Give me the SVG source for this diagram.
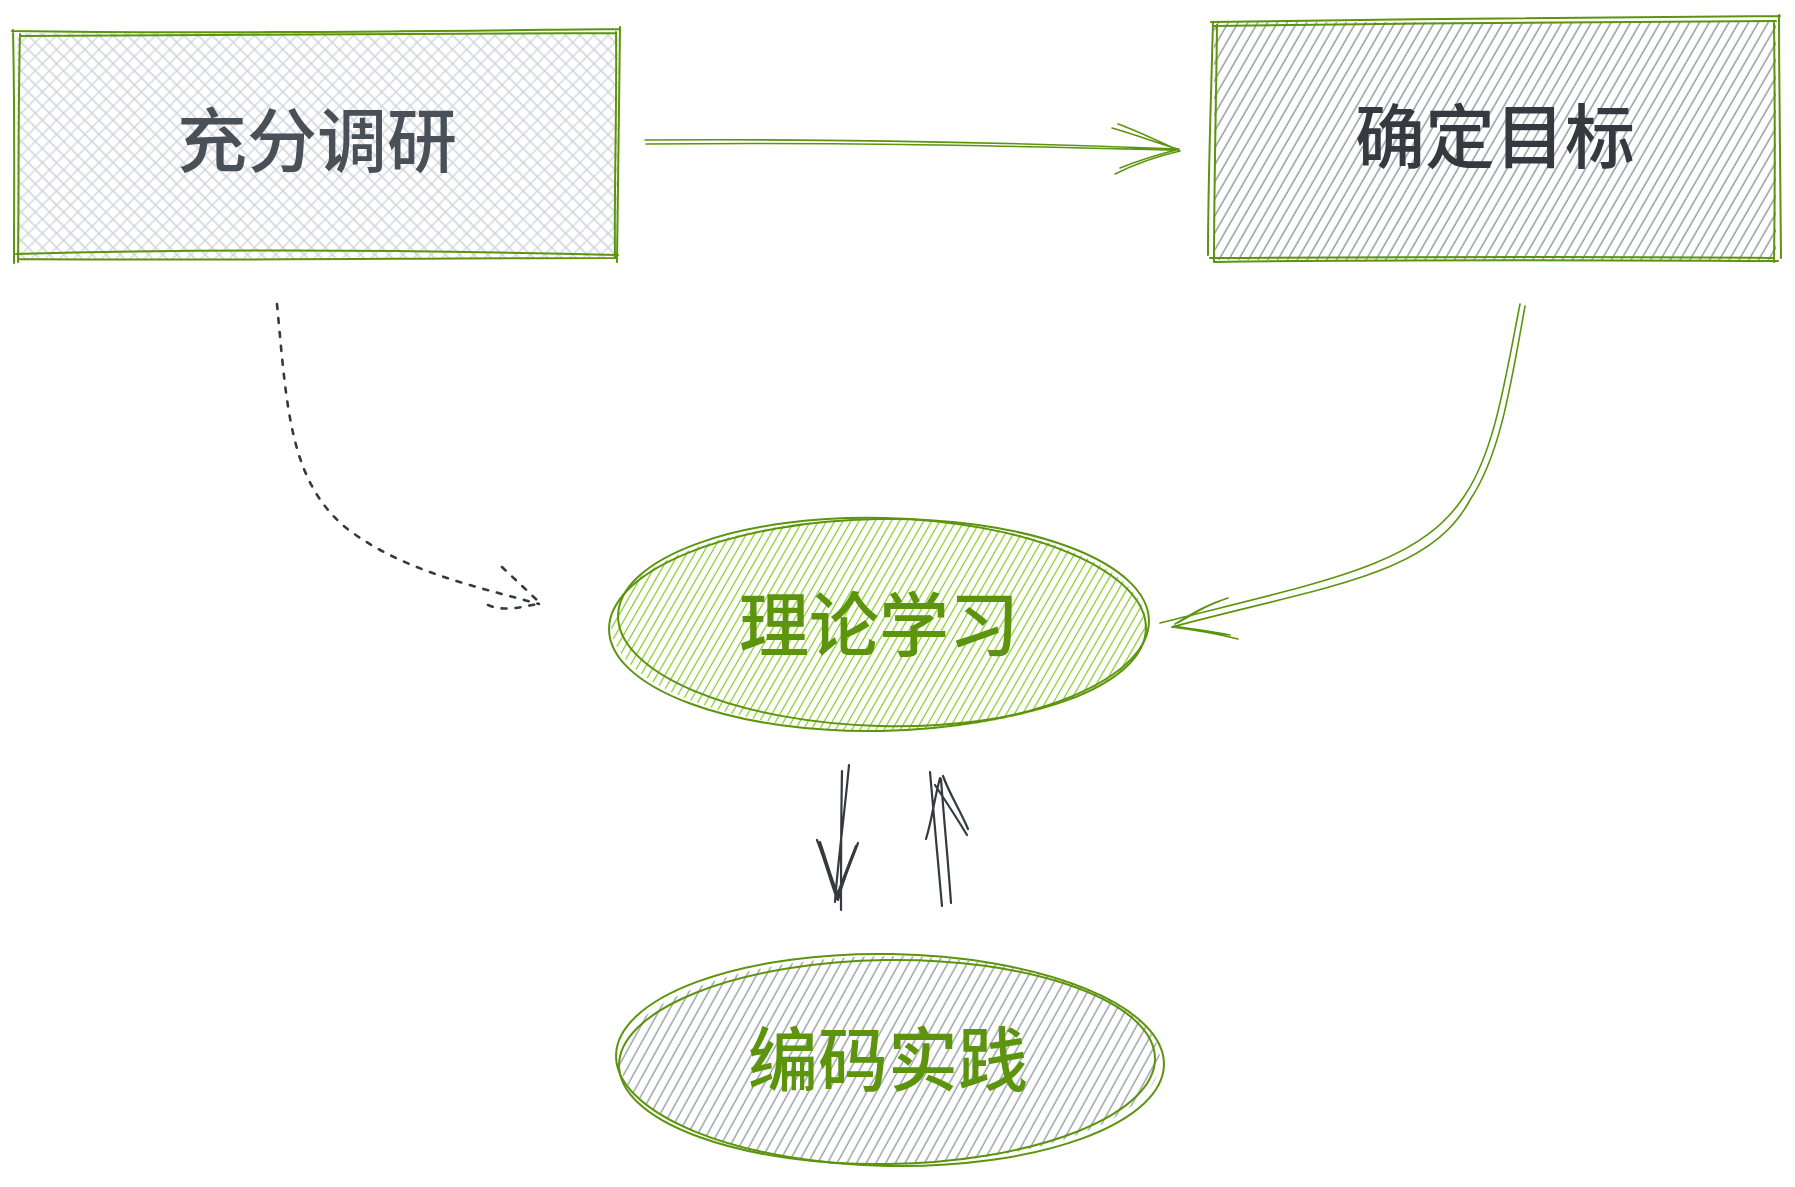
<svg xmlns="http://www.w3.org/2000/svg" width="1795" height="1187" viewBox="0 0 1795 1187">
<defs>
<pattern id="crossGray" width="10" height="10" patternUnits="userSpaceOnUse" patternTransform="rotate(45)">
<path d="M5,0V10M0,5H10" stroke="#ced4da" stroke-width="1.3" fill="none"/>
</pattern>
<pattern id="hatchGray" width="8.5" height="8.5" patternUnits="userSpaceOnUse" patternTransform="rotate(30)">
<path d="M4,0V8.5" stroke="#868e96" stroke-width="1.3" fill="none"/>
</pattern>
<pattern id="hatchLime" width="7" height="7" patternUnits="userSpaceOnUse" patternTransform="rotate(30)">
<path d="M3.5,0V7" stroke="#82c91e" stroke-width="1.2" fill="none"/>
</pattern>
<pattern id="hatchGray2" width="8.5" height="8.5" patternUnits="userSpaceOnUse" patternTransform="rotate(29)">
<path d="M4,0V8.5" stroke="#868e96" stroke-width="1.2" fill="none"/>
</pattern>
</defs>
<style>
.outline{fill:none;stroke:#5c940d;stroke-width:2;stroke-linecap:round;stroke-linejoin:round}
.thin{fill:none;stroke:#5c940d;stroke-width:1.6;stroke-linecap:round;stroke-linejoin:round}
.dark{fill:none;stroke:#343a40;stroke-width:2.2;stroke-linecap:round;stroke-linejoin:round}
.dotted{fill:none;stroke:#343a40;stroke-width:2.6;stroke-dasharray:5 9;stroke-linecap:round}
.lbl{font-family:"Noto Sans CJK SC","Noto Sans",sans-serif;font-size:70px;text-anchor:middle;dominant-baseline:central}
.box{font-weight:500}
.oval{font-weight:500}
</style>
<rect width="1795" height="1187" fill="#ffffff"/>

<g id="node-research">
<rect x="17" y="33" width="601" height="226" fill="url(#crossGray)"/>
<path class="outline" d="M12,31 C200,34 420,31 620,29 M20,36 C220,34 420,34 616,33 M20,34 C18,110 19,190 18,262 M13,30 C15,120 14,200 14,263 M616,32 C617,110 614,190 615,257 M620,27 C619,110 618,200 617,262 M16,254 C200,249 420,250 618,255 M18,259 C220,261 420,258 616,258"/>
<text class="lbl box" x="317" y="136" fill="#495057">充分调研</text>
</g>

<g id="node-goal">
<rect x="1214" y="22" width="562" height="238" fill="url(#hatchGray)"/>
<path class="outline" d="M1211,22 C1400,19 1600,17 1780,16 M1214,26 C1400,24 1600,21 1776,21 M1213,22 C1211,100 1208,180 1208,255 M1217,25 C1216,110 1214,190 1214,262 M1774,22 C1775,110 1775,190 1774,262 M1779,15 C1779,100 1781,190 1781,258 M1210,258 C1400,257 1600,256 1774,258 M1214,262 C1400,259 1600,260 1778,261"/>
<text class="lbl box" x="1495" y="132" fill="#343a40">确定目标</text>
</g>

<g id="node-theory">
<ellipse cx="879" cy="625" rx="268" ry="106" fill="url(#hatchLime)"/>
<ellipse class="outline" cx="879" cy="625" rx="270" ry="106" transform="rotate(-1 879 625)"/>
<ellipse class="outline" cx="882" cy="622" rx="264" ry="104" transform="rotate(1.5 882 622)"/>
<text class="lbl oval" x="879" y="620" fill="#5c940d">理论学习</text>
</g>

<g id="node-practice">
<ellipse cx="890" cy="1060" rx="270" ry="104" fill="url(#hatchGray2)"/>
<ellipse class="outline" cx="890" cy="1060" rx="274" ry="106" transform="rotate(1 890 1060)"/>
<ellipse class="outline" cx="887" cy="1062" rx="268" ry="102" transform="rotate(-0.8 887 1062)"/>
<text class="lbl oval" x="888" y="1055" fill="#5c940d">编码实践</text>
</g>

<g id="connectors">
<path class="thin" d="M645,140 C800,139 1000,142 1179,149 M646,144 C850,142 1000,146 1174,150"/>
<path class="thin" d="M1118,124 C1140,132 1160,142 1180,151 M1112,128 C1140,136 1160,144 1178,149 M1115,174 C1135,164 1158,156 1180,151 M1120,168 C1140,160 1160,154 1176,150"/>
<path class="dotted" d="M277,304 C287,410 290,480 345,527 C400,570 470,585 539,604"/>
<path class="dotted" d="M502,567 L539,602 M488,605 C505,612 520,607 538,604"/>
<path class="thin" d="M1520,304 C1505,380 1495,450 1465,495 C1420,565 1330,580 1160,623 M1525,306 C1510,390 1500,455 1470,500 C1430,575 1330,585 1172,627"/>
<path class="thin" d="M1228,598 C1205,605 1190,615 1175,624 M1220,601 C1200,608 1188,618 1177,623 M1238,639 C1215,633 1195,630 1172,627 M1230,635 C1210,631 1190,629 1174,626"/>
<path class="dark" d="M842,771 C841,820 841,860 841,910 M849,765 C845,810 838,860 835,902 M817,840 C825,860 830,880 837,899 M820,842 C827,862 832,882 839,897 M858,843 C850,865 843,880 838,900 M856,846 C848,866 842,882 836,898"/>
<path class="dark" d="M930,772 C934,820 938,860 942,906 M941,779 C944,820 948,860 951,903 M926,839 C932,820 934,800 940,778 M968,829 C960,810 950,795 943,776 M967,835 C955,815 945,800 935,785"/>
</g>
</svg>
